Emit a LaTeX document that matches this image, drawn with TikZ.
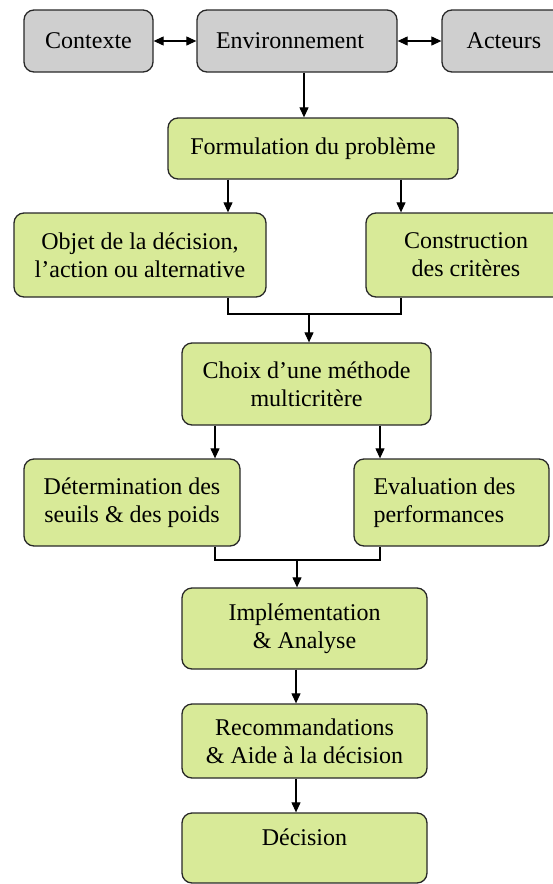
\documentclass[tikz,border=0pt]{standalone}
\usepackage{fontspec}
\setmainfont{Liberation Serif}
\usetikzlibrary{arrows.meta}
\definecolor{boxgrey}{RGB}{207,207,207}
\definecolor{boxgreen}{RGB}{216,234,152}
\definecolor{edgecol}{RGB}{40,40,40}
\begin{document}
\begin{tikzpicture}[x=1pt,y=-1pt,
  basebox/.style={draw=edgecol, line width=1.3pt, rounded corners=10pt,
    inner sep=0pt, align=center,
    font=\fontsize{24}{28}\selectfont},
  greybox/.style={basebox, fill=boxgrey},
  greenbox/.style={basebox, fill=boxgreen},
  arr/.style={line width=1.1pt, -{Triangle[length=10pt,width=9pt]}},
  dblarr/.style={line width=1.1pt, {Triangle[length=10pt,width=9pt]}-{Triangle[length=10pt,width=9pt]}},
  link/.style={line width=1.1pt}]
\useasboundingbox (0,0) rectangle (552,884);

% context row
\node[greybox, minimum width=129pt, minimum height=62pt] (ctx) at (88.5,41) {Contexte};
\node[greybox, minimum width=200pt, minimum height=62pt] (env) at (297,41) {Environnement\hspace*{14pt}};
\node[greybox, minimum width=124pt, minimum height=62pt] (act) at (504,41) {Acteurs};

% process steps
\node[greenbox, minimum width=290pt, minimum height=61pt] (form) at (313,148.5) {Formulation du problème};
\node[greenbox, minimum width=252pt, minimum height=84pt] (obj) at (140,255) {Objet de la décision,\\l’action ou alternative};
\node[greenbox, minimum width=200pt, minimum height=84pt] (crit) at (466,255) {Construction\\des critères};
\node[greenbox, minimum width=249pt, minimum height=82pt] (choix) at (306.5,384) {Choix d’une méthode\\multicritère};
\node[greenbox, minimum width=216pt, minimum height=87pt] (seuil) at (132,502.5) {Détermination des\\seuils \& des poids};
\node[greenbox, minimum width=195pt, minimum height=87pt, align=left] (perf) at (451.5,502.5) {Evaluation des\hspace*{14pt}\\performances};
\node[greenbox, minimum width=245pt, minimum height=81pt] (impl) at (304.5,628.5) {Implémentation\\\& Analyse};
\node[greenbox, minimum width=245pt, minimum height=74pt] (reco) at (304.5,741) {Recommandations\\\& Aide à la décision};
\node[draw=edgecol, line width=1.3pt, rounded corners=10pt, fill=boxgreen,
  inner xsep=0pt, inner ysep=0pt, minimum width=245pt,
  text height=32pt, text depth=38pt,
  font=\fontsize{24}{28}\selectfont] (dec) at (304.5,848) {Décision};

% connector columns and junctions
\coordinate (xa) at (304,0);
\coordinate (xb) at (228,0);
\coordinate (xc) at (401,0);
\coordinate (xe) at (215,0);
\coordinate (xf) at (380,0);
\coordinate (xh) at (296,0);
\coordinate (j1) at (309,314);
\coordinate (j2) at (297,560);

% connectors
\draw[dblarr] (ctx.east) -- (env.west);
\draw[dblarr] (env.east) -- (act.west);
\draw[arr] (env.south -| xa) -- (form.north -| xa);
\draw[arr] (form.south -| xb) -- (obj.north -| xb);
\draw[arr] (form.south -| xc) -- (crit.north -| xc);
\draw[link] (obj.south -| xb) |- (j1) -| (crit.south -| xc);
\draw[arr] (j1) -- (choix.north -| j1);
\draw[arr] (choix.south -| xe) -- (seuil.north -| xe);
\draw[arr] (choix.south -| xf) -- (perf.north -| xf);
\draw[link] (seuil.south -| xe) |- (j2) -| (perf.south -| xf);
\draw[arr] (j2) -- (impl.north -| j2);
\draw[arr] (impl.south -| xh) -- (reco.north -| xh);
\draw[arr] (reco.south -| xh) -- (dec.north -| xh);
\end{tikzpicture}
\end{document}
